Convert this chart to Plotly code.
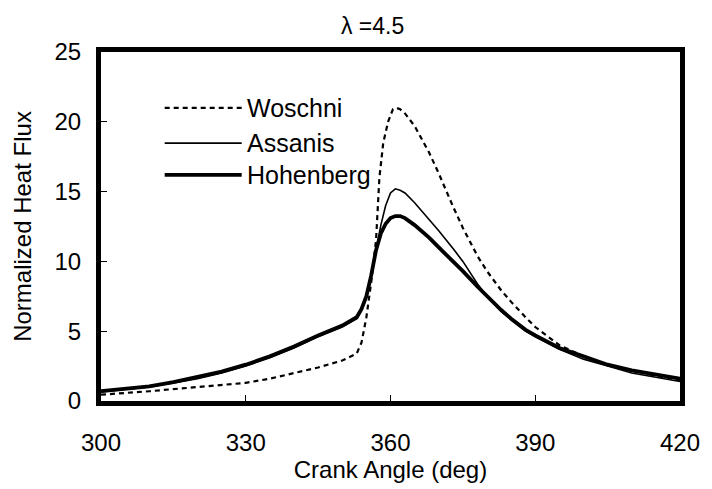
import plotly.graph_objects as go

# crank angle (deg) and normalized heat flux
w_angle = [300, 305, 310, 315, 320, 325, 330, 335, 340, 345, 350, 353, 354, 355,
           356, 357, 357.7, 358.5, 359.5, 360.5, 361.2, 362, 363, 365, 368, 370, 373,
           375, 378, 380, 383, 385, 388, 390, 395, 400, 405, 410, 415, 420]
woschni = [0.45, 0.55, 0.7, 0.85, 1.0, 1.15, 1.3, 1.6, 2.0, 2.4, 2.9, 3.4, 4.2, 6.0,
           8.5, 11.5, 16.0, 18.5, 20.0, 20.9, 21.0, 20.9, 20.6, 19.7, 17.8, 16.3, 13.9,
           12.4, 10.4, 9.3, 7.9, 7.1, 6.0, 5.3, 4.0, 3.2, 2.6, 2.2, 1.8, 1.5]

a_angle = [300, 305, 310, 315, 320, 325, 330, 335, 340, 345, 350, 353, 354, 355,
           356, 357, 358, 359, 360, 361, 362, 363, 365, 368, 370, 373, 375, 378,
           380, 383, 385, 388, 390, 395, 400, 405, 410, 415, 420]
assanis = [0.65, 0.8, 1.0, 1.3, 1.6, 2.0, 2.5, 3.1, 3.8, 4.6, 5.3, 5.9, 6.5, 7.4,
           9.0, 10.8, 12.6, 14.0, 14.9, 15.2, 15.1, 14.9, 14.2, 13.0, 12.2, 10.9, 10.0, 8.4,
           7.5, 6.4, 5.8, 5.0, 4.6, 3.7, 3.0, 2.5, 2.0, 1.7, 1.4]

h_angle = [300, 305, 310, 315, 320, 325, 330, 335, 340, 345, 350, 353, 354, 355,
           356, 357, 358, 359, 360, 361, 362, 363, 365, 368, 370, 373, 375, 378,
           380, 383, 385, 388, 390, 395, 400, 405, 410, 415, 420]
hohenberg = [0.7, 0.85, 1.05, 1.35, 1.7, 2.1, 2.6, 3.2, 3.9, 4.7, 5.4, 6.0, 6.6, 7.5,
             9.0, 10.8, 12.0, 12.7, 13.1, 13.25, 13.25, 13.1, 12.6, 11.7, 11.0, 10.0, 9.3, 8.2,
             7.5, 6.5, 5.9, 5.1, 4.7, 3.8, 3.2, 2.6, 2.2, 1.9, 1.6]

names = ["Woschni", "Assanis", "Hohenberg"]
x_ticks = [300, 330, 360, 390, 420]
y_ticks = [0, 5, 10, 15, 20, 25]

FONT = "Liberation Sans, Arial, sans-serif"

fig = go.Figure()
fig.add_trace(go.Scatter(x=w_angle, y=woschni, mode="lines", name=names[0],
                         line=dict(color="black", width=2.2, dash="5px,4px")))
fig.add_trace(go.Scatter(x=a_angle, y=assanis, mode="lines", name=names[1],
                         line=dict(color="black", width=1.6)))
fig.add_trace(go.Scatter(x=h_angle, y=hohenberg, mode="lines", name=names[2],
                         line=dict(color="black", width=3.8)))

# hand-made legend (long line keys like the original)
styles = [dict(width=2.2, dash="5px,4px"), dict(width=1.6), dict(width=3.8)]
leg_y = [0.84, 0.739, 0.648]
for nm, st, ly in zip(names, styles, leg_y):
    fig.add_shape(type="line", xref="paper", yref="paper",
                  x0=0.11, x1=0.243, y0=ly, y1=ly,
                  line=dict(color="black", **st))
    fig.add_annotation(text=nm, xref="paper", yref="paper", x=0.248, y=ly,
                       xanchor="left", yanchor="middle", showarrow=False,
                       font=dict(family=FONT, size=25, color="black"))

# page body adds 8px, so the figure is a bit smaller than the window
fig.update_layout(
    width=704, height=481,
    margin=dict(l=93, r=23, t=44, b=86),
    paper_bgcolor="white", plot_bgcolor="white",
    showlegend=False,
    font=dict(family=FONT, color="black"),
    title=dict(text="λ =4.5", x=0.469, xref="paper", xanchor="center",
               y=0.962, yanchor="middle", font=dict(family=FONT, size=23)),
)
fig.update_xaxes(range=[300, 420], tickvals=x_ticks, showgrid=False, zeroline=False,
                 showline=True, linecolor="black", linewidth=5, mirror=True,
                 ticks="inside", ticklen=6, tickwidth=1, tickcolor="black",
                 ticklabelstandoff=16, ticklabeloverflow="allow",
                 tickfont=dict(size=24), title=dict(text="Crank Angle (deg)", font=dict(size=24), standoff=4))
fig.update_yaxes(range=[0, 25], tickvals=y_ticks, showgrid=False, zeroline=False,
                 showline=True, linecolor="black", linewidth=5, mirror=True,
                 ticks="inside", ticklen=6, tickwidth=1, tickcolor="black",
                 ticklabelstandoff=10,
                 tickfont=dict(size=24), title=dict(text="Normalized Heat Flux", font=dict(size=24), standoff=18))

fig.write_html("out.html")
